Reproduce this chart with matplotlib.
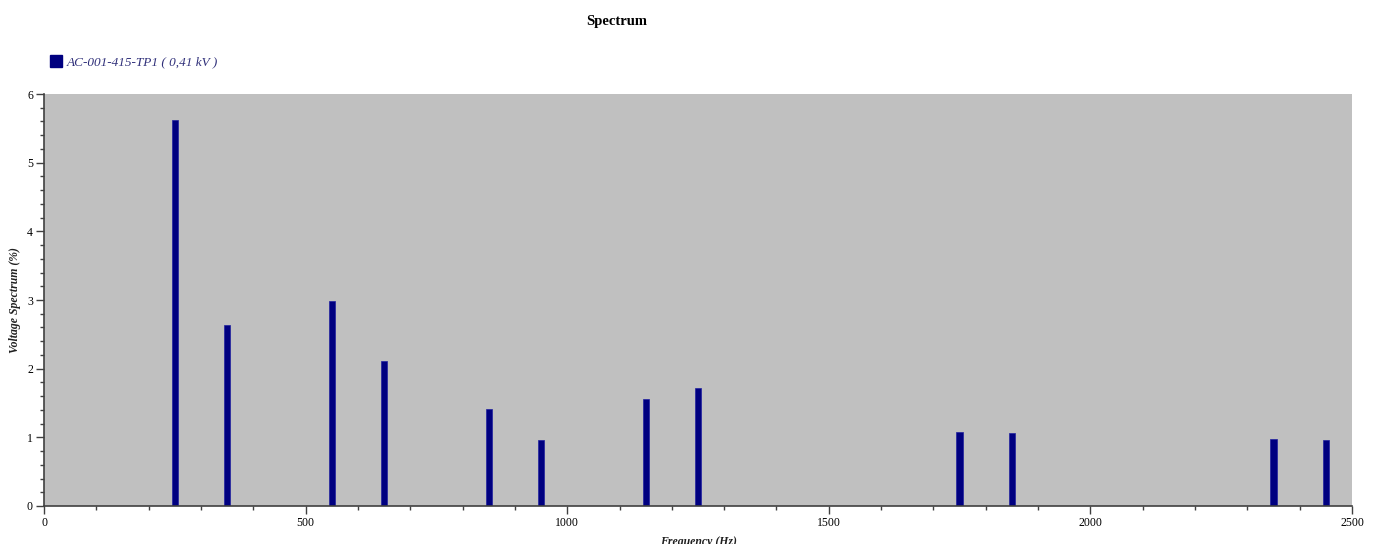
import matplotlib.pyplot as plt
from matplotlib.ticker import MultipleLocator
from matplotlib.patches import Rectangle

# Harmonic spectrum values
freqs = [250, 350, 550, 650, 850, 950, 1150, 1250, 1750, 1850, 2350, 2450]
spectrum = [5.62, 2.64, 2.99, 2.11, 1.41, 0.96, 1.56, 1.72, 1.08, 1.06, 0.98, 0.96]
series_name = "AC-001-415-TP1 ( 0,41 kV )"

plt.rcParams["font.family"] = ["Liberation Serif", "DejaVu Serif"]

fig = plt.figure(figsize=(13.78, 5.44), dpi=100)
ax = fig.add_axes([44 / 1378, 1 - 506 / 544, 1308 / 1378, 412 / 544])
ax.set_facecolor("#c0c0c0")

ax.bar(freqs, spectrum, width=12, color="#000080", edgecolor="#2020a0", linewidth=0.5)

ax.set_xlim(0, 2500)
ax.set_ylim(0, 6)
ax.xaxis.set_major_locator(MultipleLocator(500))
ax.xaxis.set_minor_locator(MultipleLocator(100))
ax.yaxis.set_major_locator(MultipleLocator(1))
ax.yaxis.set_minor_locator(MultipleLocator(0.2))
ax.tick_params(which="major", length=6, width=1, labelsize=8.5, color="#404040", pad=2)
ax.tick_params(which="minor", length=3, width=1, color="#404040")

for side in ("top", "right"):
    ax.spines[side].set_visible(False)
for side in ("left", "bottom"):
    ax.spines[side].set_color("#404040")
    ax.spines[side].set_linewidth(1.2)

fig.text(617 / 1378, 1 - 21 / 544, "Spectrum", ha="center", va="center",
         fontsize=10.5, fontweight="bold")

# legend swatch and label
fig.patches.append(Rectangle((50 / 1378, 1 - 67 / 544), 12 / 1378, 12 / 544,
                             transform=fig.transFigure, color="#000080"))
fig.text(67 / 1378, 1 - 62 / 544, series_name, ha="left", va="center",
         fontsize=9.5, style="italic", color="#30307a")

fig.text(15 / 1378, 1 - 300 / 544, "Voltage Spectrum (%)", rotation=90, ha="center", va="center",
         fontsize=8.5, style="italic", fontweight="bold", color="#202020")
fig.text(698 / 1378, 1 - 536 / 544, "Frequency (Hz)", ha="center", va="top",
         fontsize=8.5, style="italic", fontweight="bold", color="#202020")

fig.savefig("out.png", dpi=100)
plt.close(fig)
